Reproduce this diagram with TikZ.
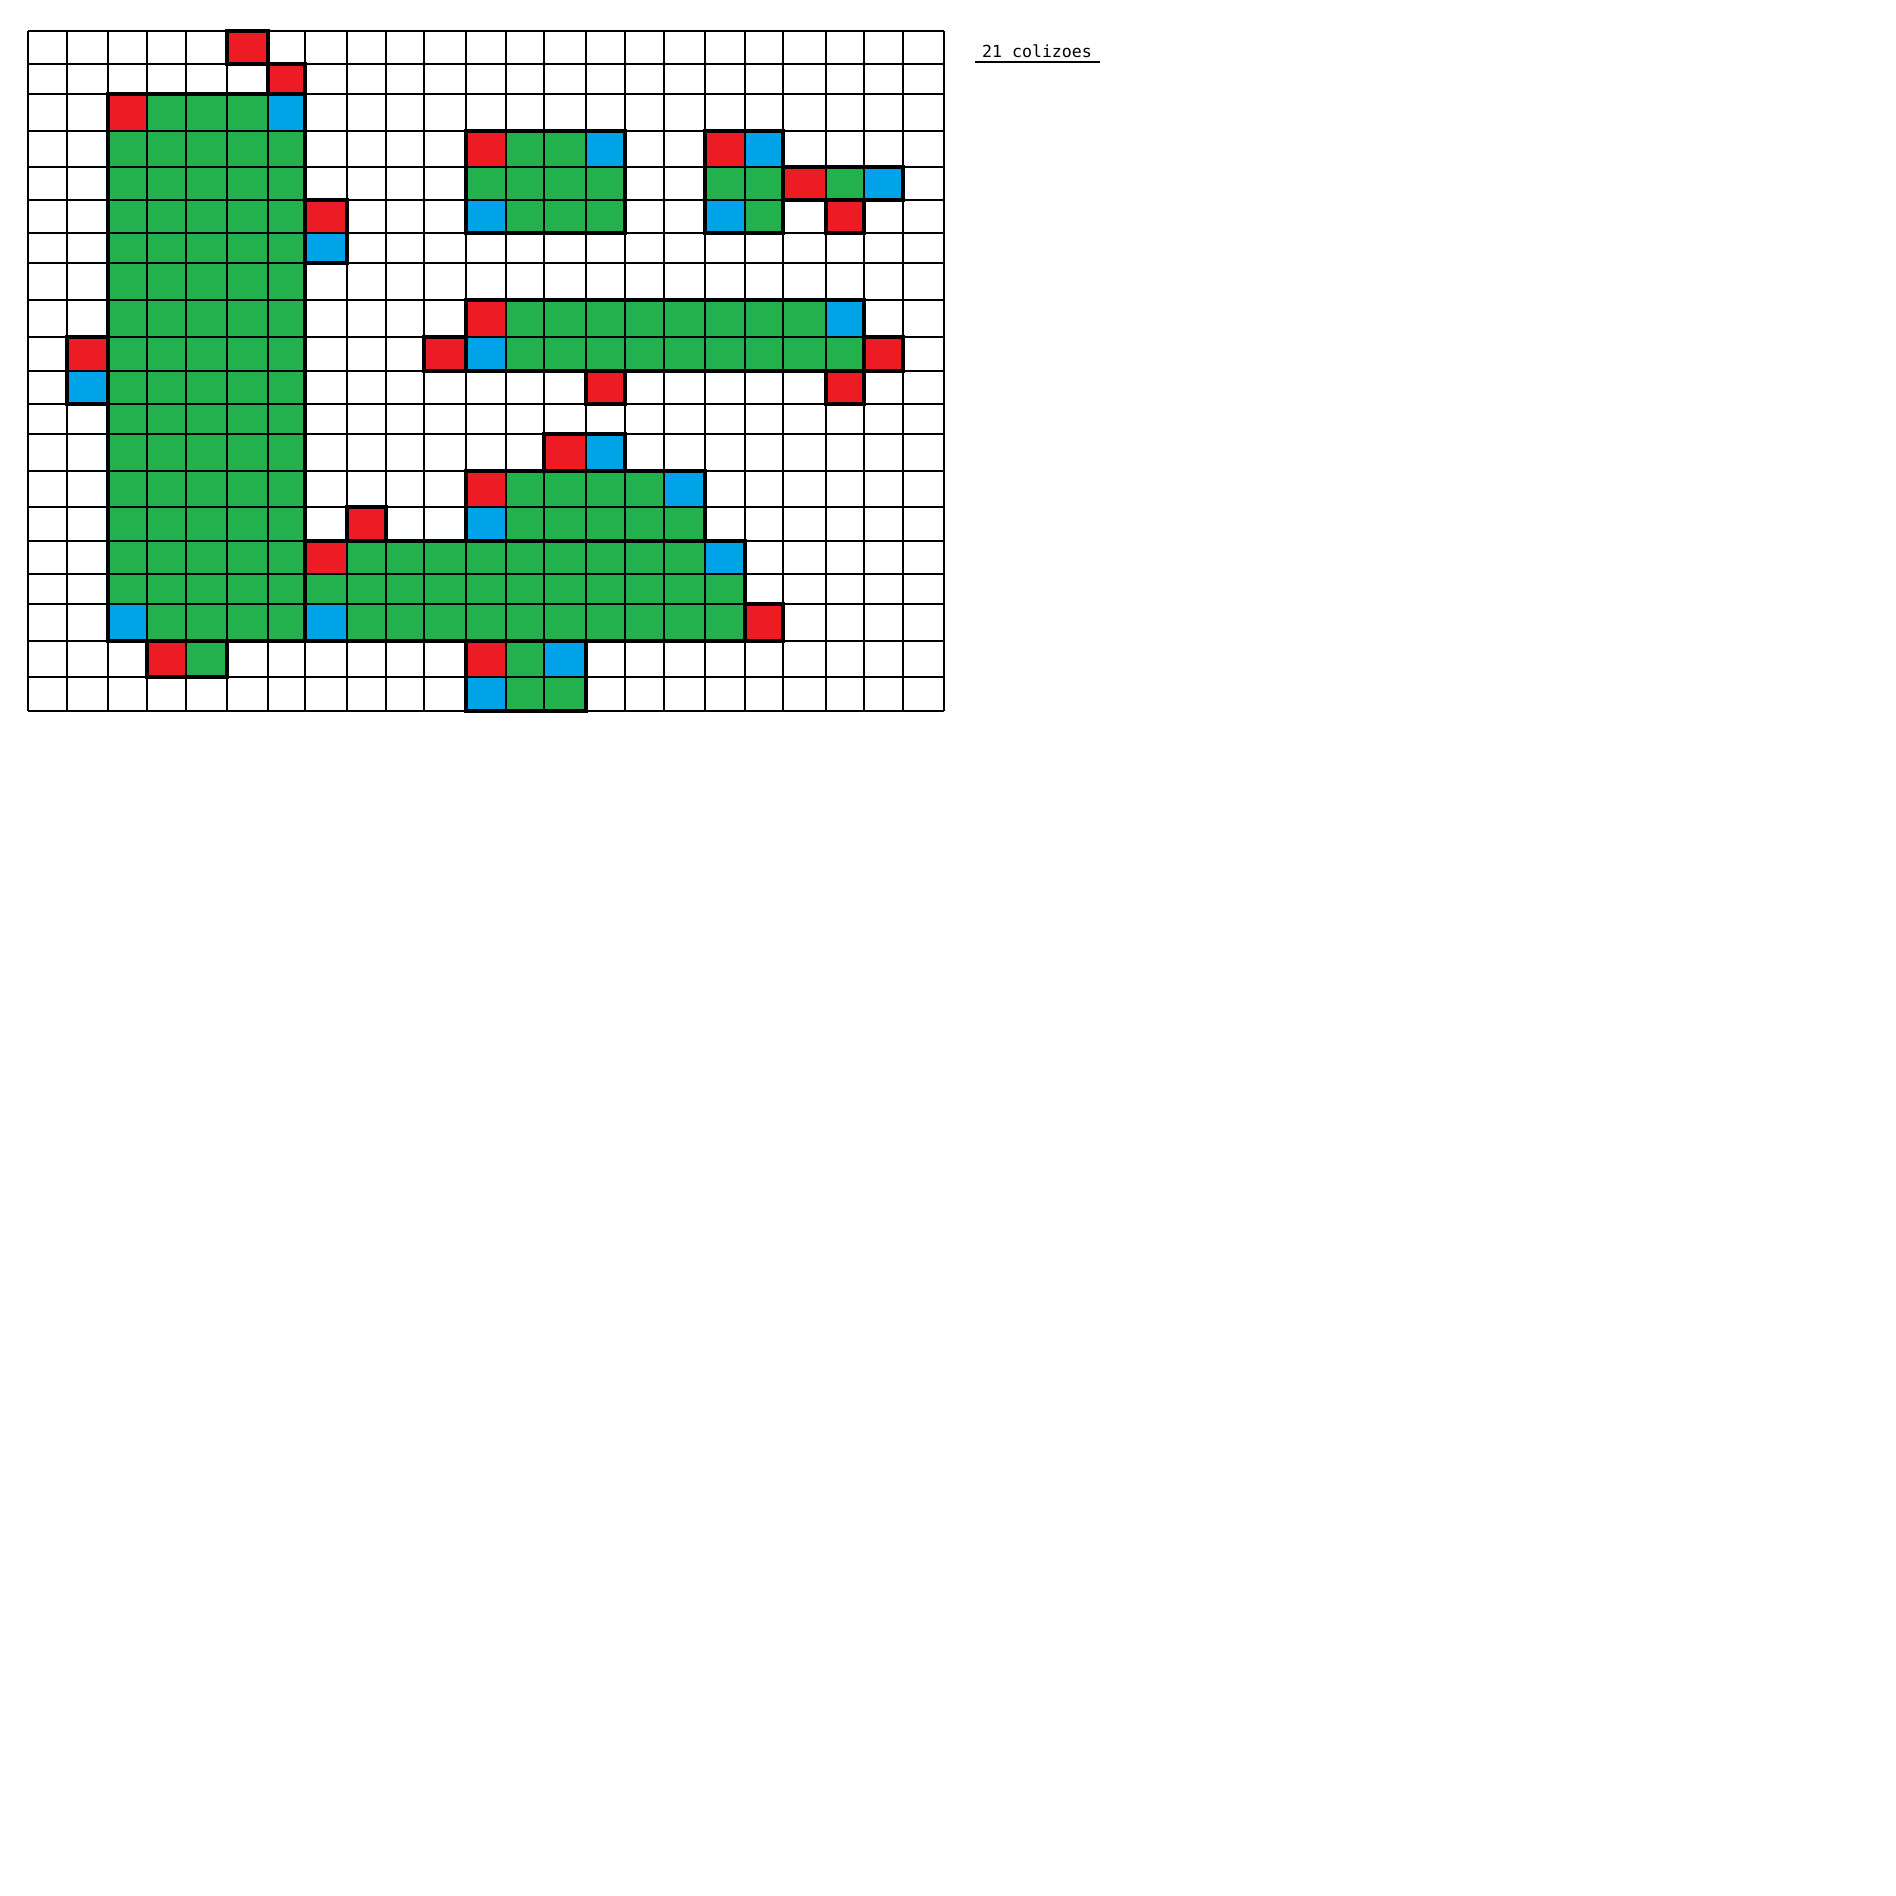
\documentclass[tikz,border=0pt]{standalone}
\usepackage{fontspec}
\newfontfamily\monof{DejaVu Sans Mono}
\definecolor{cred}{HTML}{ED1C24}
\definecolor{cgreen}{HTML}{22B14C}
\definecolor{cblue}{HTML}{00A2E8}
\def\CX{{28,67,108,147,186,227,268,305,347,386,424,466,506,544,586,625,664,705,745,783,826,864,903,944}}
\def\RY{{31,64,94,131,167,200,233,263,300,337,371,404,434,471,507,541,574,604,641,677,711}}
% fill a block of cells: col1 col2 row1 row2 colour (inclusive)
\newcommand\cellblock[5]{%
  \pgfmathsetmacro\xa{\CX[#1]}\pgfmathsetmacro\xb{\CX[#2+1]}%
  \pgfmathsetmacro\ya{\RY[#3]}\pgfmathsetmacro\yb{\RY[#4+1]}%
  \fill[#5] (\xa,\ya) rectangle (\xb,\yb);}
\newcommand\onecell[3]{\cellblock{#1}{#1}{#2}{#2}{#3}}
% outline: col1 row1 col2 row2 (inclusive cells)
\newcommand\outl[4]{%
  \pgfmathsetmacro\xa{\CX[#1]}\pgfmathsetmacro\xb{\CX[#3+1]}%
  \pgfmathsetmacro\ya{\RY[#2]}\pgfmathsetmacro\yb{\RY[#4+1]}%
  \draw[thickline] (\xa,\ya) rectangle (\xb,\yb);}
\tikzset{
  gridline/.style={line width=1pt, black},
  thickline/.style={line width=2.3pt, black, line join=miter},
  uline/.style={line width=1.4pt, black},
}
\begin{document}
\begin{tikzpicture}[x=0.5pt,y=-0.5pt]
\useasboundingbox[fill=white] (0,0) rectangle (1896,1896);
% ---- fills ----
% shape A
\cellblock{2}{6}{2}{17}{cgreen}
\onecell{2}{2}{cred}\onecell{6}{2}{cblue}\onecell{2}{17}{cblue}
% singles top
\onecell{5}{0}{cred}\onecell{6}{1}{cred}
% pairs
\onecell{7}{5}{cred}\onecell{7}{6}{cblue}
\onecell{1}{9}{cred}\onecell{1}{10}{cblue}
% shape B
\cellblock{11}{14}{3}{5}{cgreen}
\onecell{11}{3}{cred}\onecell{14}{3}{cblue}\onecell{11}{5}{cblue}
% shape C
\cellblock{17}{18}{3}{5}{cgreen}
\onecell{17}{3}{cred}\onecell{18}{3}{cblue}\onecell{17}{5}{cblue}
% shape D
\onecell{19}{4}{cred}\onecell{20}{4}{cgreen}\onecell{21}{4}{cblue}
\onecell{20}{5}{cred}
% shape E
\cellblock{11}{20}{8}{9}{cgreen}
\onecell{11}{8}{cred}\onecell{20}{8}{cblue}\onecell{11}{9}{cblue}
\onecell{10}{9}{cred}\onecell{21}{9}{cred}\onecell{14}{10}{cred}\onecell{20}{10}{cred}
% pair row 12
\onecell{13}{12}{cred}\onecell{14}{12}{cblue}
% shape F
\cellblock{11}{16}{13}{14}{cgreen}
\onecell{11}{13}{cred}\onecell{16}{13}{cblue}\onecell{11}{14}{cblue}
\onecell{8}{14}{cred}
% shape G
\cellblock{7}{17}{15}{17}{cgreen}
\onecell{7}{15}{cred}\onecell{17}{15}{cblue}\onecell{7}{17}{cblue}
\onecell{18}{17}{cred}
% pair row 18
\onecell{3}{18}{cred}\onecell{4}{18}{cgreen}
% shape H
\cellblock{11}{13}{18}{19}{cgreen}
\onecell{11}{18}{cred}\onecell{13}{18}{cblue}\onecell{11}{19}{cblue}
% ---- grid ----
\foreach \i in {0,...,23}{
  \pgfmathsetmacro\gx{\CX[\i]}
  \draw[gridline] (\gx,31) -- (\gx,711);
}
\foreach \j in {0,...,20}{
  \pgfmathsetmacro\gy{\RY[\j]}
  \draw[gridline] (28,\gy) -- (944,\gy);
}
% ---- outlines ----
\outl{2}{2}{6}{17}
\outl{5}{0}{5}{0}
\outl{6}{1}{6}{1}
\outl{7}{5}{7}{6}
\outl{1}{9}{1}{10}
\outl{11}{3}{14}{5}
\outl{17}{3}{18}{5}
\outl{19}{4}{21}{4}
\outl{20}{5}{20}{5}
\outl{11}{8}{20}{9}
\outl{10}{9}{10}{9}
\outl{21}{9}{21}{9}
\outl{14}{10}{14}{10}
\outl{20}{10}{20}{10}
\outl{13}{12}{14}{12}
\outl{11}{13}{16}{14}
\outl{8}{14}{8}{14}
\outl{7}{15}{17}{17}
\outl{18}{17}{18}{17}
\outl{3}{18}{4}{18}
\outl{11}{18}{13}{19}
% ---- label ----
\node[anchor=base, inner sep=0pt, font=\monof\fontsize{8.3pt}{10pt}\selectfont] (lbl) at (1037,57) {21 colizoes};
\draw[uline] (975,62) -- (1100,62);
\end{tikzpicture}
\end{document}
